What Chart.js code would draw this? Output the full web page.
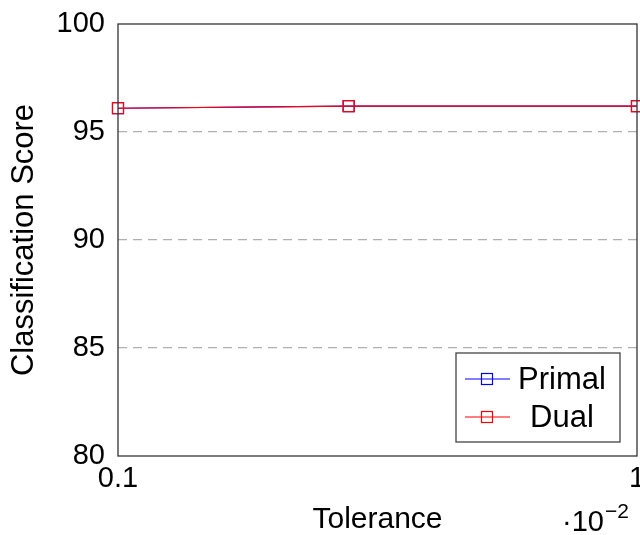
<!DOCTYPE html>
<html>
<head>
<meta charset="utf-8">
<script src="https://cdn.jsdelivr.net/npm/chart.js@4"></script>
<style>
  html, body { margin: 0; padding: 0; background: #fff; }
  canvas { display: block; }
</style>
</head>
<body>
<canvas id="score-chart" width="640" height="535"></canvas>
<script>
const tolerances = [0.1, 0.5, 1];
const primalScores = [96.1, 96.2, 96.2];
const dualScores = [96.1, 96.2, 96.2];
const xTicks = [0.1, 1];
const yTicks = [80, 85, 90, 95, 100];
const seriesNames = ['Primal', 'Dual'];
const xLabel = 'Tolerance';
const yLabel = 'Classification Score';
const xScaleNote = '·10';
const xScaleExp = '−2';

const fontFamily = '"Liberation Sans", Arial, sans-serif';

function toPoints(values) {
  return tolerances.map((t, i) => ({ x: t, y: values[i] }));
}

// frame round the plot, the legend box and the 10^-2 note
const framePlugin = {
  id: 'frame',
  afterDraw(chart) {
    const { ctx, chartArea } = chart;
    ctx.save();
    ctx.strokeStyle = '#333';
    ctx.lineWidth = 1.3;
    ctx.strokeRect(chartArea.left, chartArea.top,
      chartArea.right - chartArea.left, chartArea.bottom - chartArea.top);

    // legend
    const boxW = 164, boxH = 89;
    const bx = chartArea.right - 17 - boxW;
    const by = chartArea.bottom - 14 - boxH;
    ctx.fillStyle = '#fff';
    ctx.fillRect(bx, by, boxW, boxH);
    ctx.strokeStyle = '#444';
    ctx.lineWidth = 1.3;
    ctx.strokeRect(bx, by, boxW, boxH);
    chart.data.datasets.forEach((ds, i) => {
      const cy = by + 26 + i * 38;
      ctx.strokeStyle = ds.borderColor;
      ctx.lineWidth = 1.2;
      ctx.beginPath();
      ctx.moveTo(bx + 9, cy);
      ctx.lineTo(bx + 54, cy);
      ctx.stroke();
      ctx.strokeRect(bx + 31 - 5.5, cy - 5.5, 11, 11);
      ctx.fillStyle = '#000';
      ctx.font = '31px ' + fontFamily;
      ctx.textAlign = 'center';
      ctx.textBaseline = 'middle';
      ctx.fillText(ds.label, bx + 106, cy + 1);
    });

    // scale note under the x axis
    ctx.fillStyle = '#000';
    ctx.textAlign = 'left';
    ctx.textBaseline = 'alphabetic';
    ctx.font = '29px ' + fontFamily;
    ctx.fillText(xScaleNote, 562, 531);
    const w = ctx.measureText(xScaleNote).width;
    ctx.font = '21px ' + fontFamily;
    ctx.fillText(xScaleExp, 562 + w + 1, 518);
    ctx.restore();
  }
};

const ctx = document.getElementById('score-chart').getContext('2d');
const scoreChart = new Chart(ctx, {
  type: 'line',
  data: {
    datasets: [
      {
        label: seriesNames[0],
        data: toPoints(primalScores),
        borderColor: '#0000ff',
        backgroundColor: 'rgba(0,0,0,0)',
        borderWidth: 1.2,
        pointStyle: 'rect',
        pointRadius: 7.8,
        pointBorderWidth: 1.2,
        pointBackgroundColor: 'rgba(0,0,0,0)',
        tension: 0,
        clip: false,
        order: 1,
      },
      {
        label: seriesNames[1],
        data: toPoints(dualScores),
        borderColor: '#ff0000',
        backgroundColor: 'rgba(0,0,0,0)',
        borderWidth: 1.2,
        pointStyle: 'rect',
        pointRadius: 7.8,
        pointBorderWidth: 1.2,
        pointBackgroundColor: 'rgba(0,0,0,0)',
        tension: 0,
        clip: false,
        order: 0,
      },
    ],
  },
  options: {
    responsive: false,
    animation: false,
    layout: { autoPadding: false, padding: { top: 24, right: 3, left: 0, bottom: 0 } },
    plugins: {
      legend: { display: false },
      tooltip: { enabled: false },
    },
    scales: {
      x: {
        type: 'linear',
        min: 0.1,
        max: 1,
        afterBuildTicks: (axis) => {
          axis.ticks = xTicks.map((v) => ({ value: v }));
        },
        afterFit: (axis) => {
          axis.height = 79;
          axis.paddingLeft = 0;
          axis.paddingRight = 0;
        },
        ticks: {
          color: '#000',
          font: { family: fontFamily, size: 29 },
          padding: 6,
          maxRotation: 0,
          autoSkip: false,
          callback: (v) => String(v),
        },
        grid: { display: false, drawTicks: false },
        border: { display: false },
        title: {
          display: true,
          text: xLabel,
          color: '#000',
          font: { family: fontFamily, size: 30, lineHeight: 1 },
          padding: { top: 0, bottom: 0 },
        },
      },
      y: {
        min: 80,
        max: 100,
        afterBuildTicks: (axis) => {
          axis.ticks = yTicks.map((v) => ({ value: v }));
        },
        afterFit: (axis) => {
          axis.width = 118;
          axis.paddingTop = 0;
          axis.paddingBottom = 0;
        },
        ticks: {
          color: '#000',
          font: { family: fontFamily, size: 29 },
          padding: 13,
        },
        grid: {
          drawTicks: false,
          color: (c) => (c.tick && (c.tick.value === 80 || c.tick.value === 100)) ? 'rgba(0,0,0,0)' : '#b0b0b0',
          lineWidth: 1.2,
        },
        border: { display: false, dash: [9, 6] },
        title: {
          display: true,
          text: yLabel,
          color: '#000',
          font: { family: fontFamily, size: 31 },
          padding: { top: 6, bottom: 0 },
        },
      },
    },
  },
  plugins: [framePlugin],
});
</script>
</body>
</html>
